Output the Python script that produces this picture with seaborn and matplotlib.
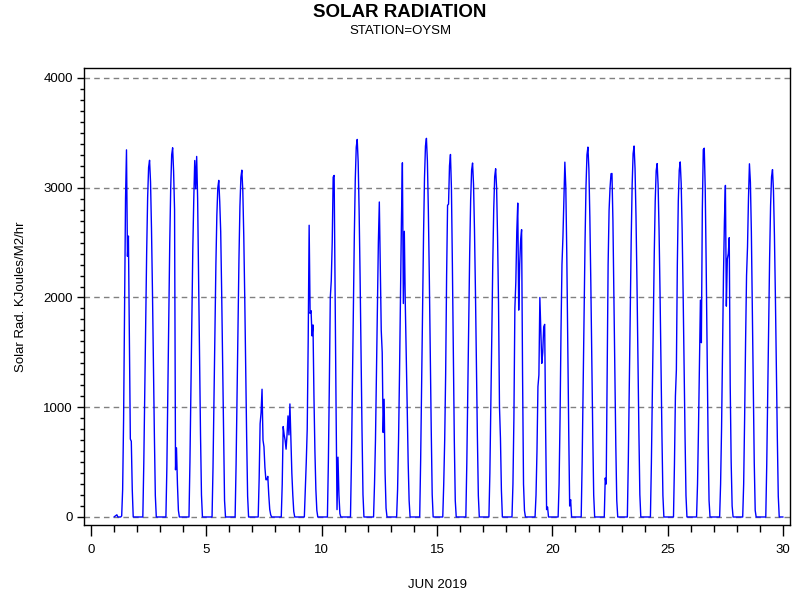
import numpy as np
import pandas as pd
import matplotlib
matplotlib.use("Agg")
import matplotlib.pyplot as plt
from matplotlib.ticker import MultipleLocator
import seaborn as sns

# Hourly readings (hours 6..20) for each day of June 2019
HOURS = list(range(6, 21))
day01 = [0, 0, 10, 250, 900, 1900, 2900, 3345, 2375, 2560, 1600, 710, 690, 250, 0]
day02 = [0, 490, 1140, 1790, 2420, 2910, 3185, 3250, 3055, 2630, 2065, 1400, 750, 195, 0]
day03 = [0, 450, 1150, 1850, 2500, 3000, 3300, 3364, 3150, 2800, 430, 630, 300, 60, 0]
day04 = [0, 500, 1150, 1800, 2450, 2900, 3248, 2990, 3285, 2900, 2200, 1450, 750, 200, 0]
day05 = [0, 450, 1050, 1700, 2300, 2750, 3000, 3067, 2870, 2600, 2050, 1400, 700, 150, 0]
day06 = [0, 475, 1105, 1740, 2355, 2830, 3095, 3160, 2970, 2560, 2005, 1360, 725, 190, 0]
day07 = [0, 350, 850, 950, 1164, 700, 640, 450, 340, 340, 370, 200, 70, 20, 0]
day08 = [0, 300, 824, 750, 700, 618, 750, 921, 748, 1030, 700, 400, 200, 50, 0]
day09 = [0, 250, 500, 800, 1600, 2658, 1855, 1880, 1650, 1750, 1100, 600, 250, 60, 0]
day10 = [0, 500, 1200, 2000, 2150, 2500, 3097, 3112, 2000, 1000, 67, 545, 200, 30, 0]
day11 = [0, 515, 1205, 1890, 2565, 3080, 3370, 3440, 3235, 2785, 2185, 1480, 790, 205, 0]
day12 = [0, 300, 700, 1300, 1900, 2500, 2870, 2300, 1700, 1500, 770, 1073, 400, 80, 0]
day13 = [0, 250, 700, 1300, 2000, 2700, 3227, 1945, 2603, 1950, 1500, 1000, 500, 150, 0]
day14 = [0, 520, 1210, 1900, 2570, 3090, 3380, 3450, 3245, 2795, 2190, 1485, 795, 205, 0]
day15 = [0, 300, 700, 1300, 2200, 2840, 2850, 3200, 3303, 3000, 2300, 1500, 700, 150, 0]
day16 = [0, 485, 1130, 1775, 2405, 2885, 3160, 3225, 3030, 2610, 2050, 1385, 740, 195, 0]
day17 = [0, 400, 1000, 1650, 2300, 2800, 3100, 3173, 3000, 2550, 1950, 1000, 718, 242, 0]
day18 = [0, 300, 900, 1900, 2142, 2600, 2860, 1885, 2300, 2521, 2618, 1300, 300, 58, 0]
day19 = [0, 200, 600, 1188, 1294, 2000, 1700, 1400, 1500, 1733, 1755, 800, 67, 91, 0]
day20 = [0, 300, 900, 1700, 2300, 2550, 2900, 3233, 3000, 2400, 1600, 800, 100, 158, 0]
day21 = [0, 505, 1180, 1855, 2510, 3015, 3300, 3370, 3170, 2730, 2140, 1450, 775, 200, 0]
day22 = [0, 355, 300, 1300, 2300, 2794, 3000, 3127, 3130, 2700, 2000, 1300, 650, 150, 0]
day23 = [0, 505, 1185, 1860, 2520, 3025, 3310, 3380, 3175, 2740, 2145, 1455, 780, 205, 0]
day24 = [0, 485, 1125, 1770, 2400, 2880, 3155, 3220, 3025, 2610, 2045, 1385, 740, 195, 0]
day25 = [0, 480, 1100, 1340, 2300, 2880, 3160, 3235, 3040, 2620, 2055, 1390, 745, 195, 0]
day26 = [0, 300, 800, 1400, 1976, 1588, 2800, 3348, 3360, 3000, 2300, 1500, 700, 150, 0]
day27 = [0, 300, 800, 1500, 2200, 2700, 3021, 1921, 2350, 2400, 2545, 1200, 500, 100, 0]
day28 = [0, 300, 900, 1600, 2200, 2460, 2900, 3218, 3051, 2600, 1900, 1200, 500, 60, 0]
day29 = [0, 475, 1110, 1740, 2360, 2835, 3100, 3165, 2975, 2565, 2010, 1360, 730, 190, 0]

DAYS = list(range(1, 30))
DAY_VALUES = [day01, day02, day03, day04, day05, day06, day07, day08, day09, day10,
              day11, day12, day13, day14, day15, day16, day17, day18, day19, day20,
              day21, day22, day23, day24, day25, day26, day27, day28, day29]

# extra night-time readings at the start and end of the record (day, hour, value)
extra_day = [1, 1, 1, 29]
extra_hour = [0, 3, 4, 24]
extra_value = [0, 20, 0, 0]

rows = []
for d, vals in zip(DAYS, DAY_VALUES):
    for h, v in zip(HOURS, vals):
        rows.append((d + h / 24.0, v))
for d, h, v in zip(extra_day, extra_hour, extra_value):
    rows.append((d + h / 24.0, v))
df = pd.DataFrame(rows, columns=["time", "radiation"]).sort_values("time")

sns.set_style("white")
plt.rcParams["font.family"] = ["Liberation Sans", "DejaVu Sans"]
plt.rcParams["text.color"] = "black"
plt.rcParams["axes.labelcolor"] = "black"

fig = plt.figure(figsize=(8, 6), dpi=100)
ax = fig.add_axes([0.105, 0.125, 0.8825, 0.7617])

for y in [0, 1000, 2000, 3000, 4000]:
    ax.axhline(y, color="#808080", lw=1.0, ls=(0, (4, 3)), zorder=1)

sns.lineplot(data=df, x="time", y="radiation", color="#0000FF", linewidth=1.0,
             estimator=None, sort=False, ax=ax, zorder=3)

ax.set_xlim(-0.3, 30.3)
ax.set_ylim(-73, 4091)
ax.xaxis.set_major_locator(MultipleLocator(5))
ax.xaxis.set_minor_locator(MultipleLocator(1))
ax.yaxis.set_major_locator(MultipleLocator(1000))
ax.yaxis.set_minor_locator(MultipleLocator(100))
ax.tick_params(axis="x", which="major", direction="out", length=8, width=1, labelsize=9.5, pad=6, colors="black")
ax.tick_params(axis="x", which="minor", direction="out", length=5, width=1, colors="black")
ax.tick_params(axis="y", which="major", direction="out", length=5, width=1, labelsize=9.5, pad=3, colors="black")
ax.tick_params(axis="y", which="minor", direction="out", length=3, width=1, colors="black")
ax.tick_params(bottom=True, left=True, which="both")
for s in ax.spines.values():
    s.set_color("black")
    s.set_linewidth(1.0)

ax.set_xlabel("JUN 2019", fontsize=9.5, labelpad=16, color="black")
ax.set_ylabel("Solar Rad. KJoules/M2/hr", fontsize=9.5, labelpad=12, color="black")

fig.text(0.5, 0.993, "SOLAR RADIATION", ha="center", va="top", fontsize=13.5,
         fontweight="bold", color="black")
fig.text(0.5, 0.959, "STATION=OYSM", ha="center", va="top", fontsize=9.5, color="black")

fig.savefig("out.png", dpi=100)
